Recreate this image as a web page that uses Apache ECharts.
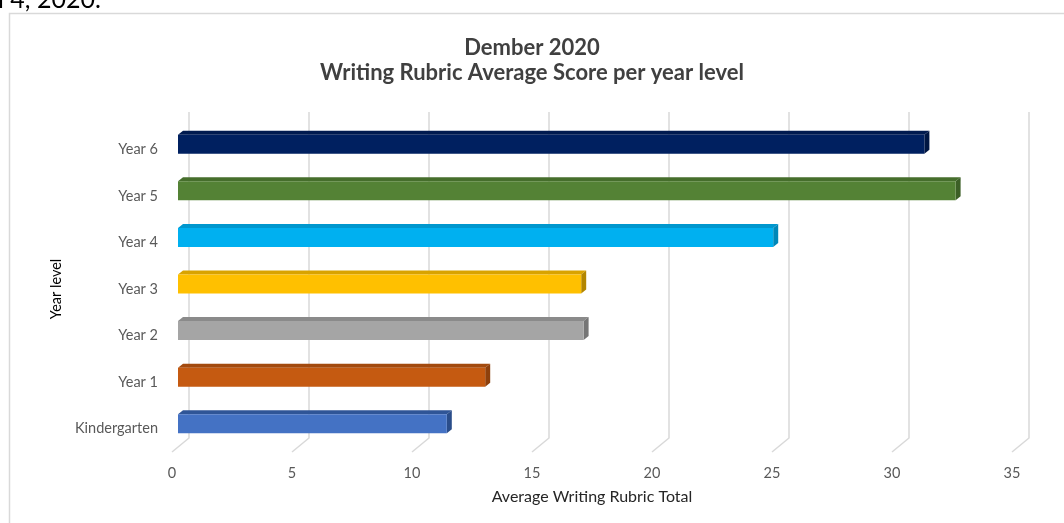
<!DOCTYPE html>
<html>
<head>
<meta charset="utf-8">
<script src="https://cdn.jsdelivr.net/npm/echarts@6/dist/echarts.min.js"></script>
<style>
html,body{margin:0;padding:0;background:#fff;}
#chart{width:1064px;height:523px;}
</style>
</head>
<body>
<div id="chart"></div>
<script>
var categories = ['Kindergarten', 'Year 1', 'Year 2', 'Year 3', 'Year 4', 'Year 5', 'Year 6'];
var scores = [11.2, 12.8, 16.9, 16.8, 24.8, 32.4, 31.1];
var frontColors = ['#4472C4', '#C55A11', '#A5A5A5', '#FFC000', '#00B0F0', '#548235', '#002060'];
var topColors = ['#2F5597', '#A34A0E', '#8A8A8A', '#D9A300', '#0097CE', '#466E2C', '#001A4F'];
var sideColors = ['#2A4D8A', '#8E400C', '#767676', '#B38600', '#0087B8', '#3C5F26', '#001642'];
var xTicks = [0, 5, 10, 15, 20, 25, 30, 35];
var titleLines = ['Dember 2020', 'Writing Rubric Average Score per year level'];

var FONT = 'Lato, "Open Sans", sans-serif';
var chart = echarts.init(document.getElementById('chart'), null, {renderer: 'canvas'});

var WALL_DX = 17, WALL_DY = 14;      // back wall offset
var BAR_OX = 6, BAR_OY = -5;         // bar front face offset from front plane
var BAR_H = 19, BAR_DX = 5, BAR_DY = 4;

var option = {
  animation: false,
  backgroundColor: '#fff',
  title: {
    text: titleLines.join('\n'),
    left: 'center',
    top: 30,
    textStyle: {fontFamily: FONT, fontSize: 22, fontWeight: 'bold', color: '#404040', lineHeight: 25}
  },
  graphic: [
    {type: 'rect', shape: {x: 9.5, y: 13.5, width: 1100, height: 600}, style: {fill: 'none', stroke: '#d9d9d9', lineWidth: 1.5}, z: -10},
    {type: 'text', x: -2, y: 12, style: {text: 'l 4, 2020.', font: '25px ' + FONT, fill: '#000', verticalAlign: 'bottom'}}
  ],
  grid: {left: 172, top: 126, width: 840, height: 326, containLabel: false},
  xAxis: {
    type: 'value', min: 0, max: 35, interval: 5,
    name: 'Average Writing Rubric Total', nameLocation: 'middle', nameGap: 37,
    nameTextStyle: {fontFamily: FONT, fontSize: 16, color: '#262626'},
    axisLine: {show: false}, axisTick: {show: false}, splitLine: {show: false},
    axisLabel: {fontFamily: FONT, fontSize: 14.5, color: '#595959', margin: 14}
  },
  yAxis: {
    type: 'category', data: categories,
    name: 'Year level', nameLocation: 'middle', nameGap: 99,
    nameTextStyle: {fontFamily: FONT, fontSize: 14.5, color: '#000'},
    axisLine: {show: false}, axisTick: {show: false}, splitLine: {show: false},
    axisLabel: {fontFamily: FONT, fontSize: 14.5, color: '#595959', margin: 14}
  },
  series: [
    {
      type: 'custom',
      silent: true,
      z: 1,
      data: xTicks.map(function (t) { return [t, 0]; }),
      encode: {x: 0, y: 1},
      renderItem: function (params, api) {
        var cs = params.coordSys;
        var p = api.coord([api.value(0), 0]);
        var x = p[0], bottom = cs.y + cs.height, top = cs.y;
        return {
          type: 'polyline',
          shape: {points: [[x + WALL_DX, top - WALL_DY], [x + WALL_DX, bottom - WALL_DY], [x, bottom]]},
          style: {stroke: '#d9d9d9', lineWidth: 1.5, fill: 'none'}
        };
      }
    },
    {
      type: 'custom',
      z: 5,
      data: scores.map(function (v, i) { return [v, i]; }),
      encode: {x: 0, y: 1},
      renderItem: function (params, api) {
        var v = api.value(0), c = api.value(1);
        var p0 = api.coord([0, c]);
        var p1 = api.coord([v, c]);
        var x0 = p0[0] + BAR_OX, x1 = p1[0] + BAR_OX;
        var yc = p0[1] + BAR_OY;
        var yt = yc - BAR_H / 2, yb = yc + BAR_H / 2;
        var i = params.dataIndex;
        return {
          type: 'group',
          children: [
            {type: 'polygon', shape: {points: [[x0, yt], [x0 + BAR_DX, yt - BAR_DY], [x1 + BAR_DX, yt - BAR_DY], [x1, yt]]}, style: {fill: topColors[i]}},
            {type: 'polygon', shape: {points: [[x1, yt], [x1 + BAR_DX, yt - BAR_DY], [x1 + BAR_DX, yb - BAR_DY], [x1, yb]]}, style: {fill: sideColors[i]}},
            {type: 'rect', shape: {x: x0, y: yt, width: x1 - x0, height: BAR_H}, style: {fill: frontColors[i]}}
          ]
        };
      }
    }
  ]
};
chart.setOption(option);
</script>
</body>
</html>
